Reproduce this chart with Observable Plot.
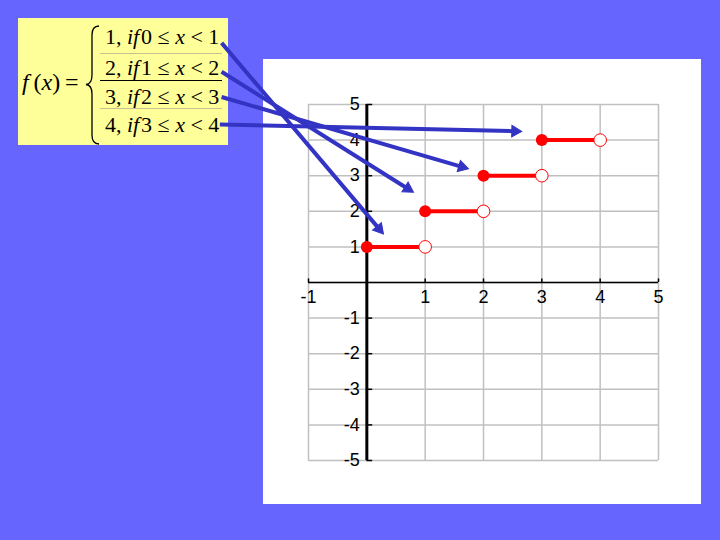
<!DOCTYPE html>
<html><head><meta charset="utf-8">
<script src="https://cdn.jsdelivr.net/npm/d3@7"></script>
<script src="https://cdn.jsdelivr.net/npm/@observablehq/plot@0.6"></script>
<style>
html,body{margin:0;padding:0;width:720px;height:540px;overflow:hidden;background:#6666ff;}
#page{position:relative;width:720px;height:540px;}
#panel{position:absolute;left:263px;top:59px;width:438px;height:445px;background:#ffffff;}
#formula{position:absolute;left:18px;top:18px;width:210px;height:127px;background:#ffff99;font-family:"Liberation Serif","Times New Roman",serif;color:#000;font-size:22px;}
#formula .row{position:absolute;left:87px;height:26px;line-height:26px;white-space:nowrap;}
#formula .sep{position:absolute;left:82px;width:122px;}
#fx{position:absolute;left:4px;top:49px;height:30px;line-height:30px;white-space:nowrap;font-size:24px;}
#brace{position:absolute;left:67px;top:7px;}
#chart{position:absolute;left:0;top:0;}
</style></head>
<body>
<div id="page">
  <div id="panel"></div>
  <div id="formula">
    <div id="fx"><i>f</i>&#8201;(<i>x</i>)&#8201;=</div>
    <svg id="brace" width="16" height="120"><path d="M14 1 Q7 1 7 10 L7 50 Q7 59 1 59.5 Q7 60 7 69 L7 110 Q7 119 14 119" fill="none" stroke="#000" stroke-width="1.3"/></svg>
  </div>
  <div id="chart"></div>
</div>
<script>
// ---- data ----
const stepStart = [0, 1, 2, 3];
const stepEnd   = [1, 2, 3, 4];
const stepValue = [1, 2, 3, 4];

const gridX = [-1, 0, 1, 2, 3, 4, 5];
const gridY = [-5, -4, -3, -2, -1, 0, 1, 2, 3, 4, 5];
const xTickLabels = [-1, 1, 2, 3, 4, 5];
const yTickLabels = [5, 4, 3, 2, 1, -1, -2, -3, -4, -5];

// annotation arrows (from the formula rows to each step), in data units
const arrowFromX = [-2.49, -2.49, -2.49, -2.52];
const arrowFromY = [6.73, 5.92, 5.21, 4.44];
const arrowToX   = [0.285, 0.80, 1.742, 2.657];
const arrowToY   = [1.363, 2.535, 3.194, 4.245];

// ---- layout ----
const W = 720, H = 540, mL = 308, mR = 62, mT = 104, mB = 80;
const xDomain = [-1, 5], yDomain = [-5, 5];

// ---- formula rows ----
const formula = document.getElementById("formula");
const rowCenters = [18.7, 50.3, 78.7, 107];
const sepTops = [35, 62, 90];
const sepStyles = ["1px solid #c8c090", "1.5px solid #000", "1px solid #c8c090"];
stepValue.forEach((v, i) => {
  const r = document.createElement("div");
  r.className = "row";
  r.style.top = (rowCenters[i] - 13) + "px";
  r.innerHTML = `${v}, <i>if</i>&#8202;${stepStart[i]} &le; <i>x</i> &lt; ${stepEnd[i]}`;
  formula.appendChild(r);
});
sepTops.forEach((t, i) => {
  const s = document.createElement("div");
  s.className = "sep";
  s.style.top = t + "px";
  s.style.borderTop = sepStyles[i];
  formula.appendChild(s);
});

// ---- chart ----
const steps = stepValue.map((v, i) => ({start: stepStart[i], end: stepEnd[i], value: v}));
const kx = (W - mL - mR) / (xDomain[1] - xDomain[0]);
const ky = (H - mT - mB) / (yDomain[1] - yDomain[0]);
const headR = 4.3, headBack = 2 * Math.sqrt((Math.PI * headR * headR) / (3 * Math.sqrt(3)));
const arrows = arrowFromX.map((x1, i) => {
  const y1 = arrowFromY[i], x2 = arrowToX[i], y2 = arrowToY[i];
  const sx = (x2 - x1) * kx, sy = -(y2 - y1) * ky, len = Math.hypot(sx, sy);
  const ux = sx / len, uy = sy / len;
  return {
    x1, y1,
    cx: x2 - headBack * ux / kx,
    cy: y2 + headBack * uy / ky,
    angle: Math.atan2(ux, -uy) * 180 / Math.PI
  };
});
const font = "Liberation Sans, Arial, sans-serif";
const arrowColor = "#3434c4";

const chart = Plot.plot({
  width: W, height: H,
  marginLeft: mL, marginRight: mR, marginTop: mT, marginBottom: mB,
  x: {domain: xDomain, axis: null},
  y: {domain: yDomain, axis: null},
  style: {background: "transparent", overflow: "visible"},
  marks: [
    Plot.ruleX(gridX, {stroke: "#c0c0c0", strokeWidth: 1.5}),
    Plot.ruleY(gridY, {stroke: "#c0c0c0", strokeWidth: 1.5}),
    Plot.ruleY([0], {stroke: "#000", strokeWidth: 1.5}),
    Plot.ruleX([0], {stroke: "#000", strokeWidth: 3}),
    Plot.ruleY(yTickLabels, {x1: 0, x2: 0.1, stroke: "#000", strokeWidth: 1.5}),
    Plot.ruleX(xTickLabels, {y1: 0, y2: 0.1, stroke: "#000", strokeWidth: 1.5}),
    Plot.text(xTickLabels, {x: d => d, y: 0, dy: 15, text: d => String(d), fontSize: 18, fontFamily: font, fill: "#000"}),
    Plot.text(yTickLabels, {x: 0, y: d => d, dx: -7, textAnchor: "end", text: d => String(d), fontSize: 18, fontFamily: font, fill: "#000"}),
    Plot.link(steps, {x1: "start", x2: "end", y1: "value", y2: "value", stroke: "#ff0000", strokeWidth: 4}),
    Plot.dot(steps, {x: "start", y: "value", r: 6, fill: "#ff0000"}),
    Plot.dot(steps, {x: "end", y: "value", r: 6.3, fill: "#ffffff", stroke: "#ff0000", strokeWidth: 1}),
    Plot.link(arrows, {x1: "x1", y1: "y1", x2: "cx", y2: "cy", stroke: arrowColor, strokeWidth: 4}),
    Plot.dot(arrows, {x: "cx", y: "cy", symbol: "triangle", r: headR, rotate: "angle", fill: arrowColor, stroke: arrowColor, strokeWidth: 1})
  ]
});
document.getElementById("chart").appendChild(chart);
</script>
</body></html>
